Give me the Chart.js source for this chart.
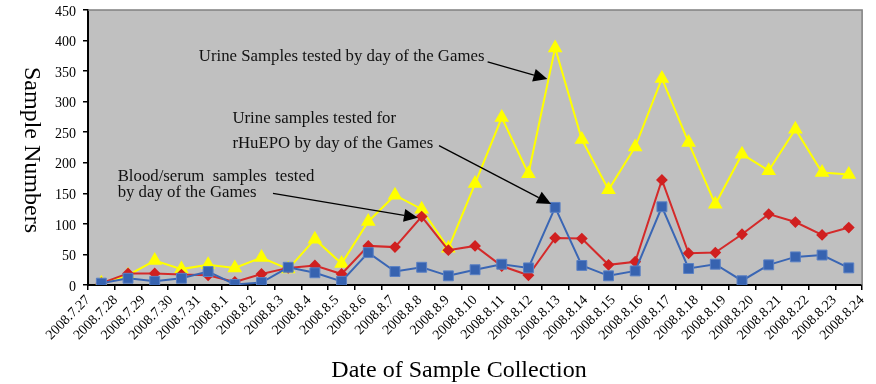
<!DOCTYPE html>
<html>
<head>
<meta charset="utf-8">
<script src="https://cdn.jsdelivr.net/npm/chart.js@4/dist/chart.umd.min.js"></script>
<style>
  html, body { margin: 0; padding: 0; background: #ffffff; }
  #wrap { width: 876px; height: 384px; position: relative; }
</style>
</head>
<body>
<div id="wrap"><canvas id="c" width="876" height="384"></canvas></div>
<script>
// Days of sample collection
const dates = [
  '2008.7.27', '2008.7.28', '2008.7.29', '2008.7.30', '2008.7.31',
  '2008.8.1', '2008.8.2', '2008.8.3', '2008.8.4', '2008.8.5', '2008.8.6',
  '2008.8.7', '2008.8.8', '2008.8.9', '2008.8.10', '2008.8.11', '2008.8.12',
  '2008.8.13', '2008.8.14', '2008.8.15', '2008.8.16', '2008.8.17', '2008.8.18',
  '2008.8.19', '2008.8.20', '2008.8.21', '2008.8.22', '2008.8.23', '2008.8.24'
];

// Urine samples tested per day
const urineSamples = [
  3, 16, 40, 26, 33, 28, 45, 26, 75, 35, 104, 147, 124, 60, 166,
  274, 182, 388, 238, 156, 226, 338, 233, 132, 214, 187, 255, 184, 181
];

// Blood/serum samples tested per day
const bloodSerumSamples = [
  3, 19, 19, 17, 16, 5, 18, 28, 32, 18, 64, 62, 112, 57, 64,
  31, 16, 77, 76, 33, 38, 172, 52, 53, 83, 116, 103, 82, 94
];

// Urine samples tested for rHuEPO per day
const rhuepoSamples = [
  3, 11, 6, 11, 22, 1, 4, 29, 20, 6, 53, 22, 29, 15, 25,
  34, 28, 127, 32, 15, 23, 128, 27, 34, 7, 33, 46, 49, 28
];

// Value axis
const yMin = 0;
const yMax = 450;
const yStep = 50;

// Callout texts with their anchor (category index, value) and arrow ends
const callouts = [
  {
    lines: ['Urine Samples tested by day of the Games'],
    at: [3.65, 373], lineGap: 0,
    arrow: { from: [14.47, 365], to: [16.71, 337] }
  },
  {
    lines: ['Urine samples tested for', 'rHuEPO by day of the Games'],
    at: [4.91, 271.6], lineGap: 25,
    arrow: { from: [12.65, 228], to: [16.85, 132.5] }
  },
  {
    lines: ['Blood/serum  samples  tested', 'by day of the Games'],
    at: [0.61, 176.7], lineGap: 16,
    arrow: { from: [6.43, 150], to: [11.86, 110] }
  }
];

const serif = '"Liberation Serif", "Times New Roman", serif';

const framePlugin = {
  id: 'frame',
  beforeDraw(chart) {
    const { ctx, chartArea: a } = chart;
    ctx.save();
    ctx.fillStyle = '#c0c0c0';
    ctx.fillRect(a.left, a.top, a.right - a.left, a.bottom - a.top);
    ctx.restore();
  },
  afterDraw(chart) {
    const { ctx, chartArea: a } = chart;
    ctx.save();
    // grey frame on top and right
    ctx.strokeStyle = '#808080';
    ctx.lineWidth = 1.5;
    ctx.beginPath();
    ctx.moveTo(a.left, a.top);
    ctx.lineTo(a.right, a.top);
    ctx.lineTo(a.right, a.bottom);
    ctx.stroke();
    // axis titles
    ctx.fillStyle = '#000';
    ctx.font = '24px ' + serif;
    ctx.textAlign = 'center';
    ctx.textBaseline = 'middle';
    ctx.fillText('Date of Sample Collection', 459, 371);
    ctx.translate(31, 150);
    ctx.rotate(Math.PI / 2);
    ctx.fillText('Sample Numbers', 0, 0);
    ctx.restore();
  }
};

const calloutPlugin = {
  id: 'callouts',
  afterDatasetsDraw(chart) {
    const { ctx } = chart;
    const xs = chart.scales.x, ys = chart.scales.y;
    const px = p => [xs.getPixelForValue(p[0]), ys.getPixelForValue(p[1])];
    ctx.save();
    ctx.strokeStyle = '#000';
    ctx.font = '16.8px ' + serif;
    ctx.textAlign = 'left';
    ctx.textBaseline = 'middle';
    callouts.forEach(c => {
      const [tx, ty] = px(c.at);
      ctx.fillStyle = '#111';
      c.lines.forEach((t, i) => ctx.fillText(t, tx, ty + i * c.lineGap));
      const [x1, y1] = px(c.arrow.from);
      const [x2, y2] = px(c.arrow.to);
      const ang = Math.atan2(y2 - y1, x2 - x1);
      const headLen = 14, headHalf = 6.5;
      const bx = x2 - headLen * Math.cos(ang), by = y2 - headLen * Math.sin(ang);
      ctx.lineWidth = 1.3;
      ctx.beginPath();
      ctx.moveTo(x1, y1);
      ctx.lineTo(bx, by);
      ctx.stroke();
      ctx.beginPath();
      ctx.moveTo(x2, y2);
      ctx.lineTo(bx + headHalf * Math.sin(ang), by - headHalf * Math.cos(ang));
      ctx.lineTo(bx - headHalf * Math.sin(ang), by + headHalf * Math.cos(ang));
      ctx.closePath();
      ctx.fillStyle = '#000';
      ctx.fill();
    });
    ctx.restore();
  }
};

new Chart(document.getElementById('c'), {
  type: 'line',
  data: {
    labels: dates,
    datasets: [
      {
        label: 'Urine samples tested for rHuEPO',
        data: rhuepoSamples,
        borderColor: '#3a66b4',
        backgroundColor: '#3763b0',
        pointBorderColor: '#5a80c4',
        pointBorderWidth: 1,
        pointStyle: 'rect',
        pointRadius: 7,
        borderWidth: 2,
        tension: 0,
        order: 1
      },
      {
        label: 'Blood/serum samples tested',
        data: bloodSerumSamples,
        borderColor: '#d42a2a',
        backgroundColor: '#d02020',
        pointBorderColor: '#d02020',
        pointStyle: 'rectRot',
        pointRadius: 4.5,
        borderWidth: 2,
        tension: 0,
        order: 2
      },
      {
        label: 'Urine samples tested',
        data: urineSamples,
        borderColor: '#ffff00',
        backgroundColor: '#ffff00',
        pointBorderColor: '#ffff00',
        pointStyle: 'triangle',
        pointRadius: 6.5,
        borderWidth: 2,
        tension: 0,
        order: 3
      }
    ]
  },
  options: {
    responsive: false,
    devicePixelRatio: 1,
    animation: false,
    layout: { padding: { top: 10, right: 13, left: 0, bottom: 0 } },
    plugins: {
      legend: { display: false },
      tooltip: { enabled: false }
    },
    scales: {
      x: {
        type: 'category',
        position: 'bottom',
        offset: true,
        grid: {
          offset: true,
          drawOnChartArea: false,
          drawTicks: true,
          tickLength: 5,
          color: '#000',
          lineWidth: 1.5
        },
        border: { color: '#000', width: 2 },
        ticks: { display: false },
        afterFit(s) { s.height = 5; }
      },
      xLabels: {
        type: 'category',
        position: 'bottom',
        weight: 1,
        labels: dates,
        offset: false,
        grid: { display: false, drawTicks: false },
        border: { display: false },
        ticks: {
          autoSkip: false,
          minRotation: 45,
          maxRotation: 45,
          padding: 2,
          color: '#000',
          font: { family: serif, size: 14 }
        },
        afterFit(s) { s.height = 94; }
      },
      y: {
        min: yMin,
        max: yMax,
        grid: {
          drawOnChartArea: false,
          drawTicks: true,
          tickLength: 5,
          color: '#000',
          lineWidth: 1.5
        },
        border: { color: '#000', width: 2 },
        ticks: {
          stepSize: yStep,
          padding: 7,
          labelOffset: 2,
          color: '#000',
          font: { family: serif, size: 14 }
        },
        afterFit(s) {
          s.width = 88;
          s.paddingTop = 0;
          s.paddingBottom = 0;
        }
      }
    }
  },
  plugins: [framePlugin, calloutPlugin]
});
</script>
</body>
</html>
